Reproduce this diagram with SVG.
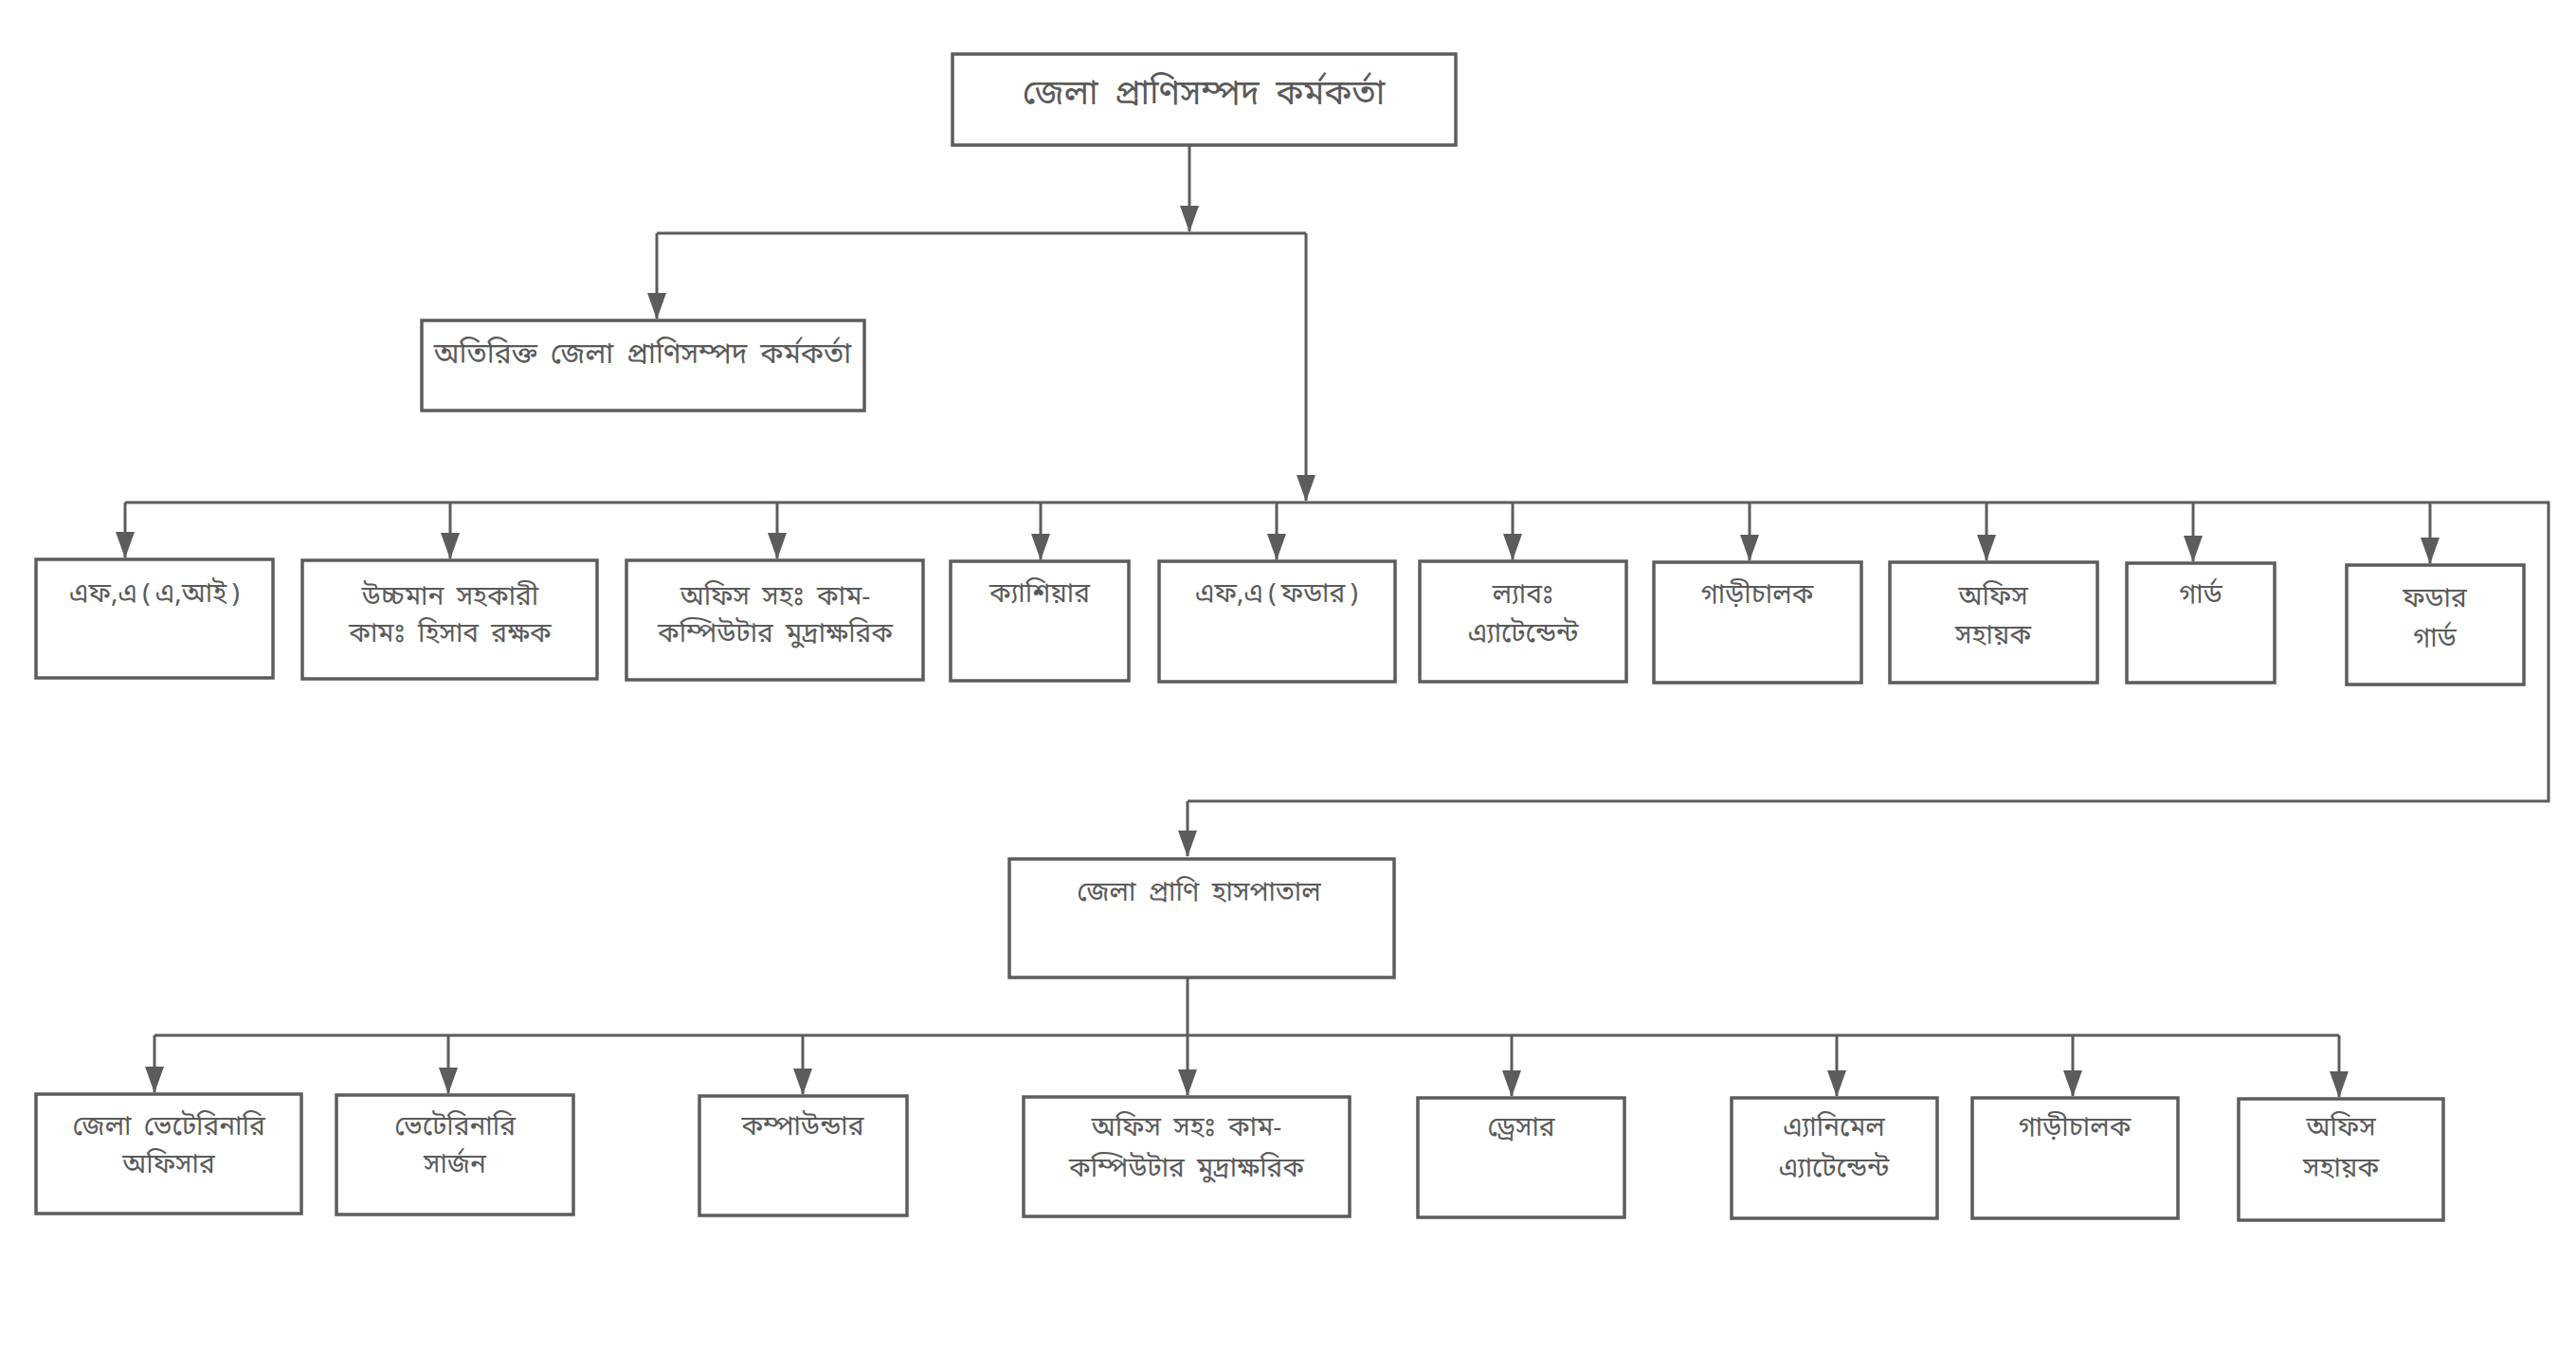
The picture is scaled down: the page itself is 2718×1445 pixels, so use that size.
<svg xmlns="http://www.w3.org/2000/svg" width="2718" height="1445" viewBox="0 0 2718 1445">
<style>
.box{fill:#fff;stroke:#5c5c5c;stroke-width:3.5}
.ln{fill:none;stroke:#5c5c5c;stroke-width:3}
.ar{fill:none;stroke:#5c5c5c;stroke-width:3;marker-end:url(#ah)}
text{font-family:'Noto Sans Bengali','Noto Serif Bengali','Lohit Bengali','FreeSans','Noto Sans',sans-serif;fill:#5a5a5a;text-anchor:middle;font-size:28px;word-spacing:6px}
.big{font-size:36px;word-spacing:8px}
.mid{font-size:30px}
.tight{word-spacing:-2px}
</style>
<defs>
<marker id="ah" markerUnits="userSpaceOnUse" markerWidth="20" markerHeight="28" viewBox="0 0 20 28" refX="10" refY="27" orient="0">
<path d="M0,0 L20,0 L10,28 Z" fill="#5c5c5c"/>
</marker>
</defs>
<rect width="2718" height="1445" fill="#fff"/>
<g id="connectors">
<path class="ar" d="M1255,153 V244"/>
<path class="ln" d="M693,246 H1378"/>
<path class="ar" d="M693,246 V336"/>
<path class="ar" d="M1378,246 V528"/>
<path class="ln" d="M132,530 H2689 V845 H1253"/>
<path class="ar" d="M1253,845 V903"/>
<path class="ar" d="M132,530 V588"/>
<path class="ar" d="M475,530 V589"/>
<path class="ar" d="M820,530 V589"/>
<path class="ar" d="M1098,530 V590"/>
<path class="ar" d="M1347,530 V590"/>
<path class="ar" d="M1596,530 V590"/>
<path class="ar" d="M1846,530 V591"/>
<path class="ar" d="M2096,530 V591"/>
<path class="ar" d="M2314,530 V592"/>
<path class="ar" d="M2564,530 V594"/>
<path class="ar" d="M1253,1031 V1155"/>
<path class="ln" d="M163,1092 H2468"/>
<path class="ar" d="M163,1092 V1152"/>
<path class="ar" d="M473,1092 V1153"/>
<path class="ar" d="M847,1092 V1154"/>
<path class="ar" d="M1595,1092 V1156"/>
<path class="ar" d="M1938,1092 V1156"/>
<path class="ar" d="M2187,1092 V1156"/>
<path class="ar" d="M2468,1092 V1157"/>
</g>
<g id="n-top"><rect class="box" x="1005" y="57" width="531" height="96"/><text class="big" x="1270" y="110">জেলা প্রাণিসম্পদ কর্মকর্তা</text></g>
<g id="n-addl"><rect class="box" x="445" y="338" width="467" height="95"/><text class="mid" x="678" y="383">অতিরিক্ত জেলা প্রাণিসম্পদ কর্মকর্তা</text></g>
<g id="n-r1-1"><rect class="box" x="38" y="590" width="250" height="125"/><text class="tight" x="163" y="635">এফ,এ ( এ,আই )</text></g>
<g id="n-r1-2"><rect class="box" x="319" y="591" width="311" height="125"/><text x="475" y="638">উচ্চমান সহকারী</text><text x="475" y="677">কামঃ হিসাব রক্ষক</text></g>
<g id="n-r1-3"><rect class="box" x="661" y="591" width="313" height="126"/><text x="818" y="638">অফিস সহঃ কাম-</text><text x="818" y="677">কম্পিউটার মুদ্রাক্ষরিক</text></g>
<g id="n-r1-4"><rect class="box" x="1003" y="592" width="188" height="126"/><text x="1097" y="635">ক্যাশিয়ার</text></g>
<g id="n-r1-5"><rect class="box" x="1223" y="592" width="249" height="127"/><text class="tight" x="1347" y="635">এফ,এ ( ফডার )</text></g>
<g id="n-r1-6"><rect class="box" x="1498" y="592" width="218" height="127"/><text x="1607" y="636">ল্যাবঃ</text><text x="1607" y="677">এ্যাটেন্ডেন্ট</text></g>
<g id="n-r1-7"><rect class="box" x="1745" y="593" width="219" height="127"/><text x="1854" y="636">গাড়ীচালক</text></g>
<g id="n-r1-8"><rect class="box" x="1994" y="593" width="219" height="127"/><text x="2103" y="638">অফিস</text><text x="2103" y="679">সহায়ক</text></g>
<g id="n-r1-9"><rect class="box" x="2244" y="594" width="156" height="126"/><text x="2322" y="636">গার্ড</text></g>
<g id="n-r1-10"><rect class="box" x="2476" y="596" width="187" height="126"/><text x="2569" y="640">ফডার</text><text x="2569" y="682">গার্ড</text></g>
<g id="n-hosp"><rect class="box" x="1065" y="906" width="406" height="125"/><text x="1265" y="950">জেলা প্রাণি হাসপাতাল</text></g>
<g id="n-r2-1"><rect class="box" x="38" y="1154" width="280" height="126"/><text x="178" y="1197">জেলা ভেটেরিনারি</text><text x="178" y="1237">অফিসার</text></g>
<g id="n-r2-2"><rect class="box" x="355" y="1155" width="250" height="126"/><text x="480" y="1197">ভেটেরিনারি</text><text x="480" y="1237">সার্জন</text></g>
<g id="n-r2-3"><rect class="box" x="738" y="1156" width="219" height="126"/><text x="847" y="1197">কম্পাউন্ডার</text></g>
<g id="n-r2-4"><rect class="box" x="1080" y="1157" width="344" height="126"/><text x="1252" y="1198">অফিস সহঃ কাম-</text><text x="1252" y="1241">কম্পিউটার মুদ্রাক্ষরিক</text></g>
<g id="n-r2-5"><rect class="box" x="1496" y="1158" width="218" height="126"/><text x="1605" y="1198">ড্রেসার</text></g>
<g id="n-r2-6"><rect class="box" x="1827" y="1158" width="217" height="127"/><text x="1935" y="1198">এ্যানিমেল</text><text x="1935" y="1241">এ্যাটেন্ডেন্ট</text></g>
<g id="n-r2-7"><rect class="box" x="2081" y="1158" width="217" height="127"/><text x="2189" y="1198">গাড়ীচালক</text></g>
<g id="n-r2-8"><rect class="box" x="2362" y="1159" width="216" height="128"/><text x="2470" y="1198">অফিস</text><text x="2470" y="1241">সহায়ক</text></g>
</svg>
